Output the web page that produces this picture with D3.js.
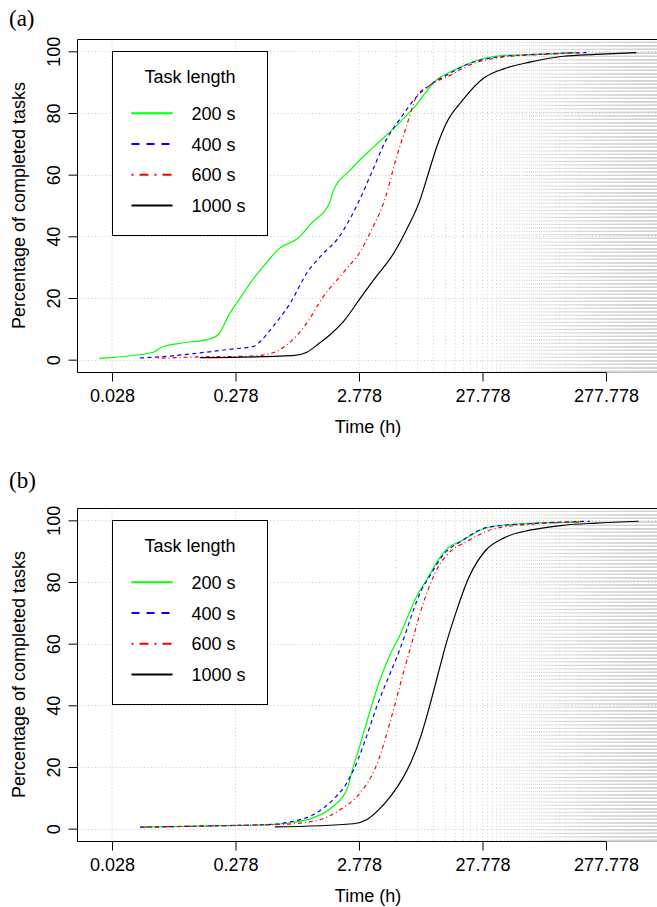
<!DOCTYPE html>
<html>
<head>
    <meta charset="utf-8">
    <title>Completed tasks</title>
    <script src="https://d3js.org/d3.v7.min.js"></script>
    <style>
        body { margin: 0; background: #fff; }
        text { font-family: "Liberation Sans", Arial, Helvetica, sans-serif; }
    </style>
</head>
<body>
    <script>
        // task lengths (legend)
        var taskNames = ["200 s", "400 s", "600 s", "1000 s"];
        var colors = ["#00ff00", "#0000ff", "#ff0000", "#000000"];

        // axis ticks
        var xTicks = [0.02778, 0.2778, 2.7778, 27.778, 277.778];
        var xTickLabels = ["0.028", "0.278", "2.778", "27.778", "277.778"];
        var yTicks = [0, 20, 40, 60, 80, 100];

        // panel (a): time (h) and percentage of completed tasks
        var a200x = [0.0219, 0.060, 0.068, 0.102, 0.163, 0.201, 0.25, 0.31, 0.365, 0.41, 0.49, 0.63, 0.89, 1.14, 1.62, 1.71, 2.36, 3.65, 5.3, 8.0, 11.7, 16.4, 27.6, 41.9, 76.5, 161];
        var a200y = [0.4, 2.4, 3.8, 5.4, 6.5, 8.1, 15.1, 20.5, 24.8, 27.5, 31.3, 36.1, 39.4, 44.2, 51.2, 54.5, 61.5, 69.0, 75.0, 82.5, 90.6, 93.9, 97.6, 98.7, 99.0, 99.6];
        var a400x = [0.0468, 0.068, 0.143, 0.266, 0.39, 0.44, 0.56, 0.77, 1.05, 1.43, 1.83, 2.82, 3.49, 4.6, 6.0, 8.1, 10.4, 14.1, 21.6, 34.8, 67, 193];
        var a400y = [0.55, 0.9, 2.2, 3.5, 4.3, 5.9, 10.8, 18.3, 28.1, 34.5, 38.8, 52.0, 60.4, 71.2, 78.2, 85.2, 89.0, 92.2, 96.0, 98.0, 98.9, 99.6];
        var a600x = [0.065, 0.143, 0.34, 0.49, 0.63, 0.81, 1.05, 1.43, 2.1, 2.9, 3.4, 4.5, 5.6, 6.7, 8.1, 10.4, 15.2, 21.6, 41.9, 76.5, 170];
        var a600y = [0.4, 0.9, 1.1, 1.6, 3.2, 6.5, 11.9, 20.5, 28.5, 35.6, 41.0, 52.0, 65.8, 75.5, 85.2, 89.0, 92.2, 95.5, 98.2, 98.9, 99.5];
        var a1000x = [0.143, 0.81, 1.05, 1.33, 1.62, 2.1, 2.82, 3.65, 5.3, 6.7, 8.7, 9.7, 12.1, 14.1, 19.1, 28.8, 41.9, 67, 125, 232, 489];
        var a1000y = [0.65, 1.3, 2.4, 5.4, 8.1, 12.6, 19.7, 25.9, 34.5, 42.0, 52.0, 58.0, 70.1, 76.6, 84.1, 91.5, 94.4, 96.5, 98.4, 99.0, 99.6];

        // panel (b)
        var b200x = [0.0468, 0.236, 0.56, 0.81, 1.18, 1.71, 2.21, 2.5, 2.9, 3.4, 4.0, 4.9, 6.0, 7.1, 8.3, 9.6, 12.1, 14.1, 19.1, 29.5, 48, 125, 170];
        var b200y = [0.5, 1.0, 1.4, 2.0, 3.5, 7.2, 12.6, 20.2, 28.5, 38.0, 47.0, 56.0, 63.0, 70.0, 76.0, 80.0, 87.0, 90.5, 93.5, 97.5, 98.7, 99.3, 99.4];
        var b400x = [0.0468, 0.236, 0.56, 0.81, 1.18, 1.71, 2.21, 2.72, 3.2, 3.9, 4.8, 5.8, 6.7, 7.6, 8.8, 10.4, 13.3, 19.1, 31, 67, 205];
        var b400y = [0.5, 1.0, 1.4, 2.4, 4.5, 9.4, 14.8, 22.3, 30.0, 40.0, 49.0, 57.0, 64.0, 70.5, 77.0, 82.0, 88.7, 93.5, 97.8, 98.9, 99.7];
        var b600x = [0.0468, 0.236, 0.56, 0.81, 1.33, 1.95, 2.82, 3.5, 4.0, 4.6, 5.4, 6.3, 7.4, 8.7, 10.4, 12.2, 14.1, 21.6, 34.8, 67, 170];
        var b600y = [0.5, 1.0, 1.3, 1.6, 2.9, 6.1, 11.5, 17.0, 22.3, 30.0, 40.0, 50.0, 60.0, 70.0, 79.0, 85.0, 88.5, 93.5, 97.3, 98.7, 99.5];
        var b1000x = [0.58, 2.5, 3.2, 4.0, 5.0, 6.2, 7.4, 8.8, 10.4, 12.1, 14.1, 16.9, 21.6, 29.5, 41.9, 67, 125, 232, 510];
        var b1000y = [0.55, 1.6, 2.9, 6.1, 10.5, 16.0, 22.0, 30.0, 40.0, 50.0, 60.0, 70.0, 81.6, 90.3, 94.4, 96.8, 98.4, 99.1, 99.7];

        var width = 657;
        var height = 907;
        var plotL = 77.5, plotR = 658.5, plotT = 39, plotB = 372;

        var x = d3.scaleLog().domain([0.0146, 739]).range([plotL, plotR]);
        var y = d3.scaleLinear().domain([-4, 104]).range([plotB, plotT]);

        // vertical grid: the two first decades plus every 2.778 h
        var gridX = [0.02778, 0.2778].concat(d3.range(1, 267).map(function(n) { return n * 2.7778; }))
            .filter(function(v) { return v < x.domain()[1]; });

        var dashes = [null, "4,3.5", "1,3,4,3", null];
        var legendDashes = [null, "8,7", "2,6,9,6", null];

        var svg = d3.select("body").append("svg")
            .attr("width", width)
            .attr("height", height);

        function zip(xs, ys) {
            return xs.map(function(v, i) { return [v, ys[i]]; });
        }

        function drawPanel(offset, label, labelY, series) {
            var g = svg.append("g").attr("transform", "translate(0," + offset + ")");

            var clip = "clip" + label.replace(/\W/g, "");
            g.append("clipPath").attr("id", clip)
                .append("rect").attr("x", plotL).attr("y", plotT).attr("width", plotR - plotL).attr("height", plotB - plotT);

            var grid = g.append("g").attr("clip-path", "url(#" + clip + ")")
                .attr("stroke", "#d3d3d3")
                .attr("stroke-width", 1)
                .attr("stroke-dasharray", "1.2,2.3");
            grid.selectAll("line.h")
                .data(yTicks)
                .enter().append("line")
                .attr("class", "h")
                .attr("x1", plotL).attr("x2", plotR)
                .attr("y1", function(d) { return Math.round(y(d)) + 0.5; })
                .attr("y2", function(d) { return Math.round(y(d)) + 0.5; });
            grid.selectAll("line.v")
                .data(gridX)
                .enter().append("line")
                .attr("class", "v")
                .attr("y1", plotB).attr("y2", plotT)
                .attr("x1", function(d) { return x(d); })
                .attr("x2", function(d) { return x(d); });

            // box
            g.append("path")
                .attr("d", "M" + plotR + "," + (plotT + 0.5) + "H" + plotL + "V" + (plotB + 0.5) + "H" + x(277.778))
                .attr("fill", "none").attr("stroke", "#000").attr("stroke-width", 1);
            g.append("line")
                .attr("x1", x(277.778)).attr("x2", plotR)
                .attr("y1", plotB + 0.5).attr("y2", plotB + 0.5)
                .attr("stroke", "#bbb");

            var line = d3.line()
                .curve(d3.curveMonotoneX)
                .x(function(d) { return x(d[0]); })
                .y(function(d) { return y(d[1]); });

            g.append("g").attr("clip-path", "url(#" + clip + ")")
                .selectAll("path.curve")
                .data(series)
                .enter().append("path")
                .attr("class", "curve")
                .attr("d", function(d) { return line(d); })
                .attr("fill", "none")
                .attr("stroke", function(d, i) { return colors[i]; })
                .attr("stroke-width", 1.2)
                .attr("stroke-dasharray", function(d, i) { return dashes[i]; });

            // x axis
            var xAxis = g.append("g")
                .attr("transform", "translate(0," + (plotB + 0.5) + ")")
                .call(d3.axisBottom(x).tickValues(xTicks).tickSize(9)
                    .tickFormat(function(d, i) { return xTickLabels[i]; }));
            xAxis.select(".domain").remove();
            xAxis.append("line")
                .attr("x1", x(xTicks[0])).attr("x2", x(xTicks[xTicks.length - 1]))
                .attr("stroke", "#000");
            xAxis.selectAll("text")
                .attr("y", 29.5).attr("dy", null)
                .attr("fill", "#000")
                .style("font-size", "18px");

            // y axis
            var yAxis = g.append("g")
                .attr("transform", "translate(" + plotL + ",0)")
                .call(d3.axisLeft(y).tickValues(yTicks).tickSize(9));
            yAxis.select(".domain").remove();
            yAxis.selectAll("text")
                .attr("x", 0).attr("y", -18).attr("dy", null)
                .attr("transform", "rotate(-90)")
                .attr("text-anchor", "middle")
                .attr("fill", "#000")
                .style("font-size", "18px");

            g.append("text")
                .attr("transform", "translate(25," + ((plotT + plotB) / 2) + ") rotate(-90)")
                .attr("text-anchor", "middle")
                .style("font-size", "18px")
                .text("Percentage of completed tasks");

            g.append("text")
                .attr("x", (plotL + plotR) / 2).attr("y", 433)
                .attr("text-anchor", "middle")
                .style("font-size", "18px")
                .text("Time (h)");

            svg.append("text")
                .attr("x", 9).attr("y", labelY)
                .style("font-family", "'Liberation Serif', 'Times New Roman', serif")
                .style("font-size", "23px")
                .text(label);

            // legend
            var lx = Math.round(x(0.02778)) + 0.5, ly = Math.round(y(100)) + 0.5;
            var lg = g.append("g").attr("transform", "translate(" + lx + "," + ly + ")");
            lg.append("rect")
                .attr("width", 155).attr("height", 184)
                .attr("fill", "#fff").attr("stroke", "#000");
            lg.append("text")
                .attr("x", 77.5).attr("y", 31)
                .attr("text-anchor", "middle")
                .style("font-size", "18px")
                .text("Task length");
            var rows = lg.selectAll("g.row")
                .data(taskNames)
                .enter().append("g")
                .attr("class", "row")
                .attr("transform", function(d, i) { return "translate(0," + (61.7 + i * 30.8) + ")"; });
            rows.append("line")
                .attr("x1", 19).attr("x2", 60)
                .attr("stroke", function(d, i) { return colors[i]; })
                .attr("stroke-width", 2)
                .attr("stroke-dasharray", function(d, i) { return legendDashes[i]; });
            rows.append("text")
                .attr("x", 79).attr("y", 6.5)
                .style("font-size", "18px")
                .text(function(d) { return d; });
        }

        drawPanel(0, "(a)", 26, [zip(a200x, a200y), zip(a400x, a400y), zip(a600x, a600y), zip(a1000x, a1000y)]);
        drawPanel(469, "(b)", 488, [zip(b200x, b200y), zip(b400x, b400y), zip(b600x, b600y), zip(b1000x, b1000y)]);
    </script>
</body>
</html>
